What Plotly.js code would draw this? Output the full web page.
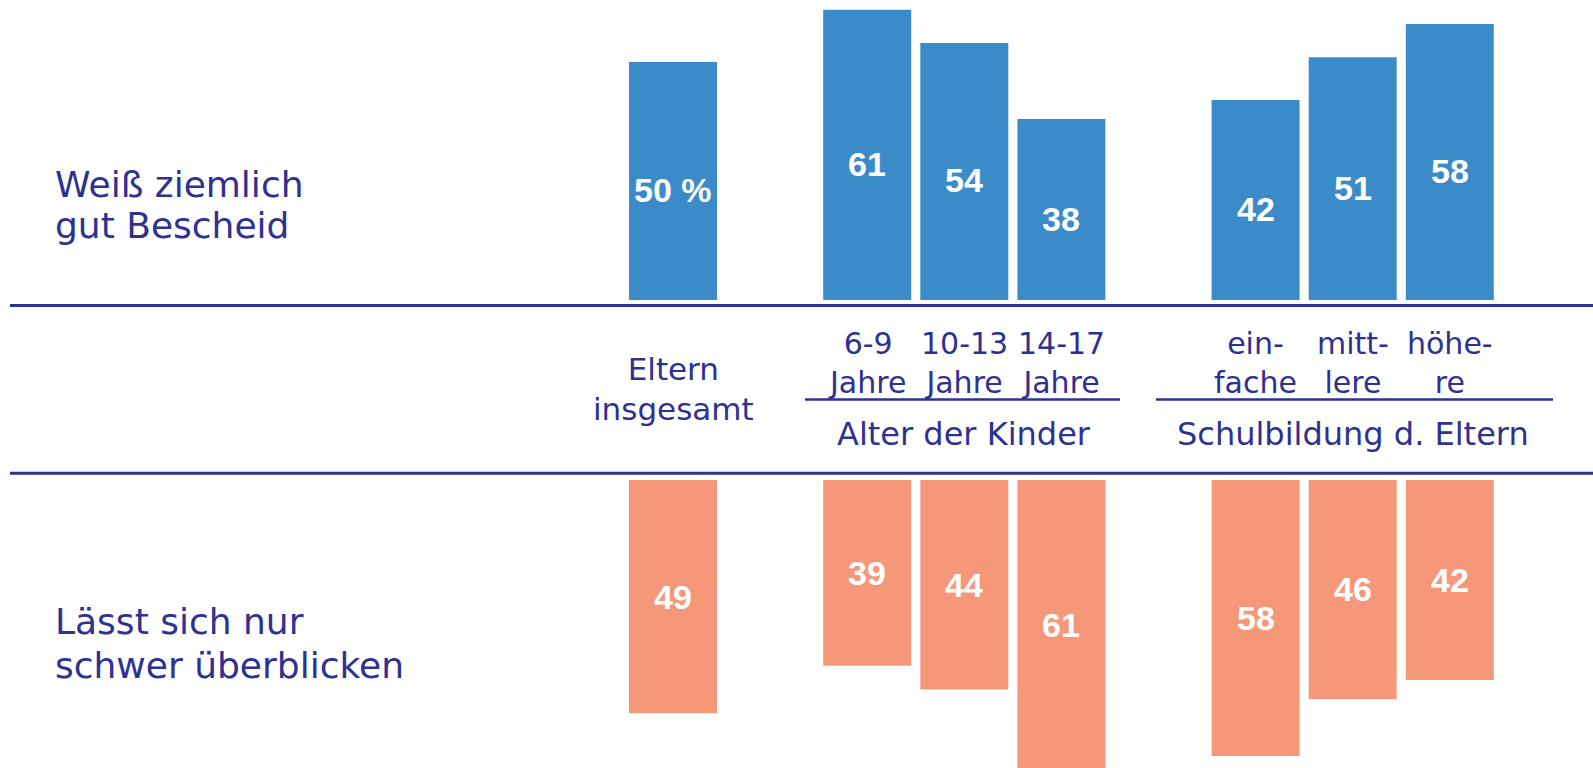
<!DOCTYPE html>
<html>
<head>
<meta charset="utf-8">
<script src="https://cdn.plot.ly/plotly-3.0.1.min.js"></script>
<style>html,body{margin:0;padding:0;background:#fff;}#chart{width:1593px;height:768px;}</style>
</head>
<body>
<div id="chart"></div>
<script>
// ---- data ----
const categories = ["Eltern insgesamt", "6-9 Jahre", "10-13 Jahre", "14-17 Jahre", "einfache", "mittlere", "höhere"];
const tickLine1 = ["Eltern", "6-9", "10-13", "14-17", "ein-", "mitt-", "höhe-"];
const tickLine2 = ["insgesamt", "Jahre", "Jahre", "Jahre", "fache", "lere", "re"];
const groupOf = [0, 1, 1, 1, 2, 2, 2];
const groupNames = ["", "Alter der Kinder", "Schulbildung d. Eltern"];
const seriesNames = ["Weiß ziemlich<br>gut Bescheid", "Lässt sich nur<br>schwer überblicken"];
const knowsWell = [50, 61, 54, 38, 42, 51, 58];
const hardToOverview = [49, 39, 44, 61, 58, 46, 42];

// ---- styling ----
const W = 1593, H = 768;
const INK = "#2e3192";
const BLUE = "#3b8bc9";
const SALMON = "#f59779";
const FONT = "DejaVu Sans";
const NUMFONT = "Liberation Sans";
const pxPerUnit = 4.76;
const x0px = 673, unitPx = 97.1;
const topBase = 300, botBase = 480;
const py = p => 1 - p / H;
const pxX = p => p / W;

const xpos = categories.map((c, i) => i + groupOf[i]);

const traces = [
  {type: "bar", x: xpos, y: knowsWell, xaxis: "x", yaxis: "y", width: 0.906,
   marker: {color: BLUE}, hoverinfo: "skip", name: seriesNames[0]},
  {type: "bar", x: xpos, y: hardToOverview, xaxis: "x", yaxis: "y2", width: 0.906,
   marker: {color: SALMON}, hoverinfo: "skip", name: seriesNames[1]}
];

const annotations = [];
// value labels
knowsWell.forEach((v, i) => {
  annotations.push({x: xpos[i], y: v / 2, xref: "x", yref: "y", yshift: -9,
    text: i === 0 ? v + " %" : String(v), showarrow: false,
    font: {family: NUMFONT, size: 34, color: "#ffffff", weight: 700}});
});
hardToOverview.forEach((v, i) => {
  annotations.push({x: xpos[i], y: v / 2, xref: "x", yref: "y2",
    text: String(v), showarrow: false,
    font: {family: NUMFONT, size: 34, color: "#ffffff", weight: 700}});
});
// category labels (two lines each)
xpos.forEach((x, i) => {
  const first = groupOf[i] === 0;
  annotations.push({x: x, y: py(first ? 389 : 363), xref: "x", yref: "paper",
    text: tickLine1[i] + "<br>" + tickLine2[i], showarrow: false, yanchor: "middle",
    font: {family: FONT, size: first ? 31 : 30, color: INK}});
});
// group labels
[1, 2].forEach(g => {
  const xs = xpos.filter((x, i) => groupOf[i] === g);
  const cx = (Math.min(...xs) + Math.max(...xs)) / 2;
  annotations.push({x: cx, y: py(434), xref: "x", yref: "paper",
    text: groupNames[g], showarrow: false, yanchor: "middle",
    font: {family: FONT, size: 32, color: INK}});
});
// series labels (left)
const rowLines = [["Weiß ziemlich", "gut Bescheid", 185, 225.5], ["Lässt sich nur", "schwer überblicken", 621, 665]];
rowLines.forEach(r => {
  [0, 1].forEach(k => {
    annotations.push({x: pxX(53), y: py(r[2 + k]), xref: "paper", yref: "paper",
      xanchor: "left", yanchor: "middle", text: r[k], showarrow: false,
      font: {family: FONT, size: 36, color: INK}});
  });
});

const shapes = [
  {type: "line", xref: "paper", yref: "paper", x0: pxX(10), x1: 1, y0: py(305.5), y1: py(305.5), line: {color: INK, width: 3}},
  {type: "line", xref: "paper", yref: "paper", x0: pxX(10), x1: 1, y0: py(473.3), y1: py(473.3), line: {color: INK, width: 3}},
  {type: "line", xref: "paper", yref: "paper", x0: pxX(805), x1: pxX(1120), y0: py(399.5), y1: py(399.5), line: {color: INK, width: 2.5}},
  {type: "line", xref: "paper", yref: "paper", x0: pxX(1156), x1: pxX(1553), y0: py(399.5), y1: py(399.5), line: {color: INK, width: 2.5}}
];

const layout = {
  width: W, height: H,
  margin: {l: 0, r: 0, t: 0, b: 0, pad: 0},
  paper_bgcolor: "#ffffff", plot_bgcolor: "rgba(0,0,0,0)",
  showlegend: false,
  xaxis: {range: [-x0px / unitPx, (W - x0px) / unitPx], visible: false, fixedrange: true},
  yaxis: {domain: [py(topBase), 1], range: [0, topBase / pxPerUnit], visible: false, fixedrange: true},
  yaxis2: {domain: [0, py(botBase)], range: [(H - botBase) / pxPerUnit, 0], anchor: "x", visible: false, fixedrange: true},
  annotations: annotations,
  shapes: shapes
};

Plotly.newPlot("chart", traces, layout, {displayModeBar: false, staticPlot: true});
</script>
</body>
</html>
